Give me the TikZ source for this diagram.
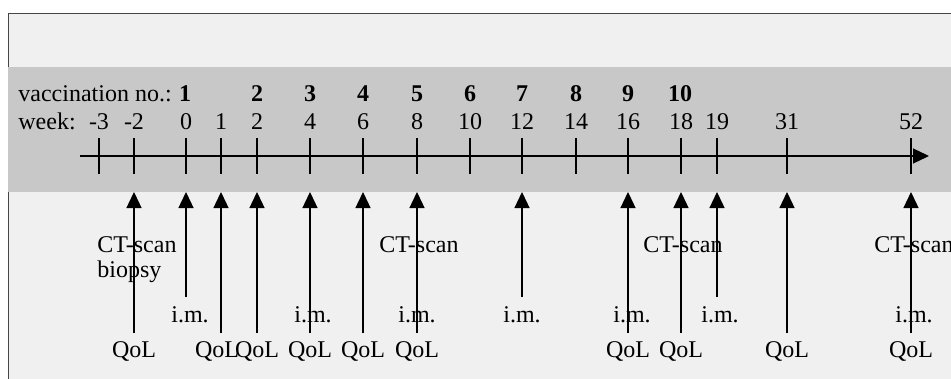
\documentclass[tikz,border=0pt]{standalone}
\usepackage{fontspec}
\setmainfont{Liberation Serif}
\usetikzlibrary{arrows.meta}
\definecolor{bglight}{RGB}{240,240,240}
\definecolor{band}{RGB}{200,200,200}
\definecolor{framec}{RGB}{70,70,70}
\begin{document}
\begin{tikzpicture}[x=0.5pt,y=-0.5pt,
  lbl/.style={inner sep=0pt, anchor=base, font=\fontsize{12}{14}\selectfont},
  bl/.style={lbl, font=\fontsize{12}{14}\selectfont\bfseries},
  tickline/.style={line width=0.6pt},
  up/.style={line width=0.65pt, -{Triangle[length=8pt,width=7.5pt]}},
  axisline/.style={line width=0.6pt, -{Triangle[length=8pt,width=7.5pt]}}]
\useasboundingbox (0,0) rectangle (951,379);
\fill[white] (0,0) rectangle (951,379);
\fill[bglight] (8,13) rectangle (951,379);
\fill[band] (8,67) rectangle (951,192);
\draw[framec, line width=0.6pt] (8.5,67) -- (8.5,13.5) -- (951,13.5);
\draw[framec, line width=0.6pt] (8.5,192) -- (8.5,379);
% header labels
\node[lbl, anchor=base west] (vacc) at (18,102) {vaccination no.:};
\node[lbl, anchor=base west] (week) at (18,130) {week:};
% axis
\coordinate (axs) at (80,156);
\coordinate (axe) at (929,156);
\draw[axisline] (axs) -- (axe);
% ticks and week labels
\foreach \x/\w [count=\i] in {99/-3,134/-2,186/0,221/1,257/2,310/4,363/6,417/8,470/10,522/12,576/14,628/16,681/18,717/19,787/31,911/52} {
  \coordinate (tt\i) at (\x,138);
  \coordinate (tb\i) at (\x,174);
  \draw[tickline] (tt\i) -- (tb\i);
  \node[lbl] (wk\i) at (\x,130) {\w};
}
% vaccination numbers
\foreach \x/\n in {185/1,257/2,310/3,363/4,417/5,470/6,522/7,576/8,628/9,680/10} {
  \node[bl] (vn\n) at (\x,102) {\n};
}
% arrows
\foreach \x/\y [count=\i] in {134/333,186/297,221/333,257/333,310/333,363/333,417/333,522/297,628/333,681/333,717/297,787/333,911/333} {
  \coordinate (as\i) at (\x,\y);
  \coordinate (ae\i) at (\x,192);
  \draw[up] (as\i) -- (ae\i);
}
% labels below
\node[lbl, anchor=base west] (ct1) at (97,252) {CT-scan};
\node[lbl, anchor=base west] (bio) at (97,277) {biopsy};
\node[lbl] (ct2) at (419,252) {CT-scan};
\node[lbl] (ct3) at (683,252) {CT-scan};
\node[lbl] (ct4) at (914,252) {CT-scan};
\foreach \x [count=\i] in {190,313,417,522,632,720,914} {
  \node[lbl] (im\i) at (\x,322) {i.m.};
}
\foreach \x [count=\i] in {134,217,257,310,363,417,628,681,787,911} {
  \node[lbl] (qol\i) at (\x,357) {QoL};
}
\end{tikzpicture}
\end{document}
